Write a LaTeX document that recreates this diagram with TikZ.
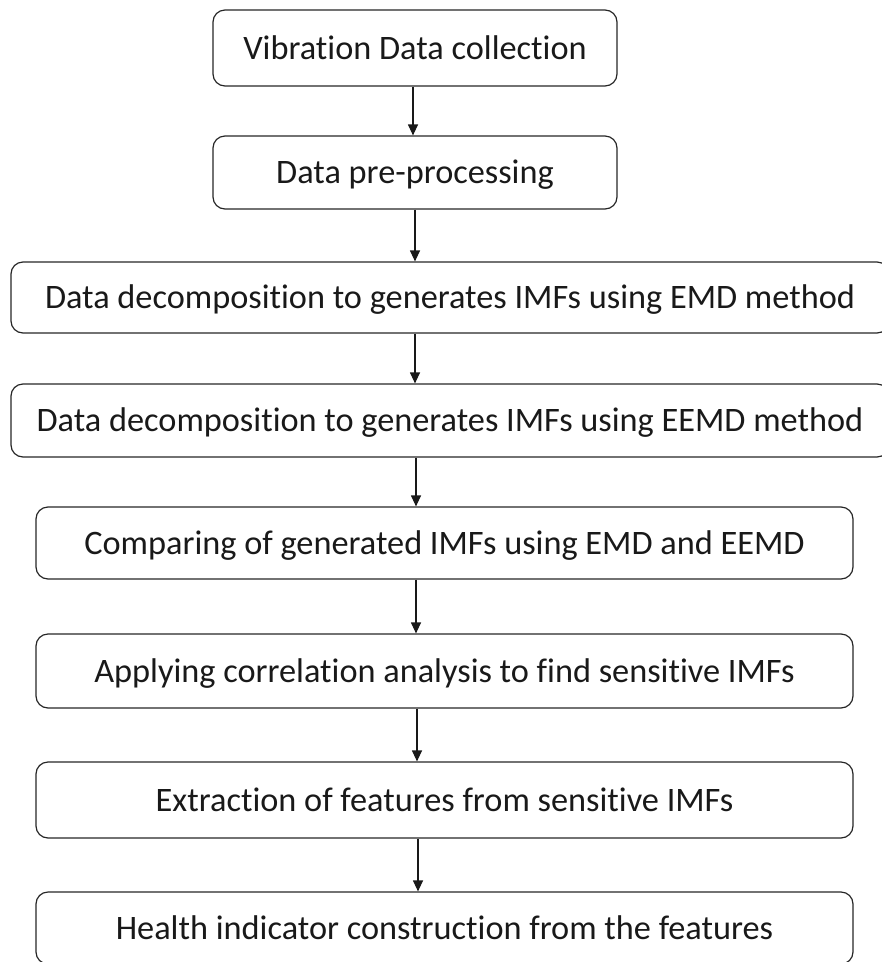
\documentclass[tikz,border=0pt]{standalone}
\usepackage{fontspec}
\setmainfont[RawFeature={-liga;-clig;-dlig}]{Carlito}
\usetikzlibrary{arrows.meta}
\begin{document}
\begin{tikzpicture}[x=1pt,y=-1pt,
  stepbox/.style={draw=black!85, line width=1.2pt, rounded corners=12pt, rectangle,
    inner sep=0pt, font=\fontsize{34.3}{40}\selectfont, text=black!90,
    text height=22pt, text depth=0pt},
  arr/.style={draw=black!90, line width=1.2pt, -{Triangle[length=11pt,width=10pt]}}]
\useasboundingbox (0,0) rectangle (882,962);
\clip (0,0) rectangle (882,962);
\node[stepbox, minimum width=404pt, minimum height=76pt] (b1) at (415,48) {Vibration Data collection};
\node[stepbox, minimum width=404pt, minimum height=73pt] (b2) at (415,172.5) {Data pre-processing};
\node[stepbox, minimum width=878pt, minimum height=71pt] (b3) at (450,297.5) {Data decomposition to generates IMFs using EMD method};
\node[stepbox, minimum width=878pt, minimum height=73pt] (b4) at (450,420.5) {Data decomposition to generates IMFs using EEMD method};
\node[stepbox, minimum width=817pt, minimum height=72pt] (b5) at (444.5,543) {Comparing of generated IMFs using EMD and EEMD};
\node[stepbox, minimum width=817pt, minimum height=74pt] (b6) at (444.5,671) {Applying correlation analysis to find sensitive IMFs};
\node[stepbox, minimum width=817pt, minimum height=76pt] (b7) at (444.5,800) {Extraction of features from sensitive IMFs};
\node[stepbox, minimum width=817pt, minimum height=72pt] (b8) at (444.5,928) {Health indicator construction from the features};
\coordinate (a1) at (413,0);
\coordinate (a2) at (415,0);
\coordinate (a3) at (415,0);
\coordinate (a4) at (416,0);
\coordinate (a5) at (416,0);
\coordinate (a6) at (417,0);
\coordinate (a7) at (418,0);
\draw[arr] (b1.south -| a1) -- (b2.north -| a1);
\draw[arr] (b2.south -| a2) -- (b3.north -| a2);
\draw[arr] (b3.south -| a3) -- (b4.north -| a3);
\draw[arr] (b4.south -| a4) -- (b5.north -| a4);
\draw[arr] (b5.south -| a5) -- (b6.north -| a5);
\draw[arr] (b6.south -| a6) -- (b7.north -| a6);
\draw[arr] (b7.south -| a7) -- (b8.north -| a7);
\end{tikzpicture}
\end{document}
